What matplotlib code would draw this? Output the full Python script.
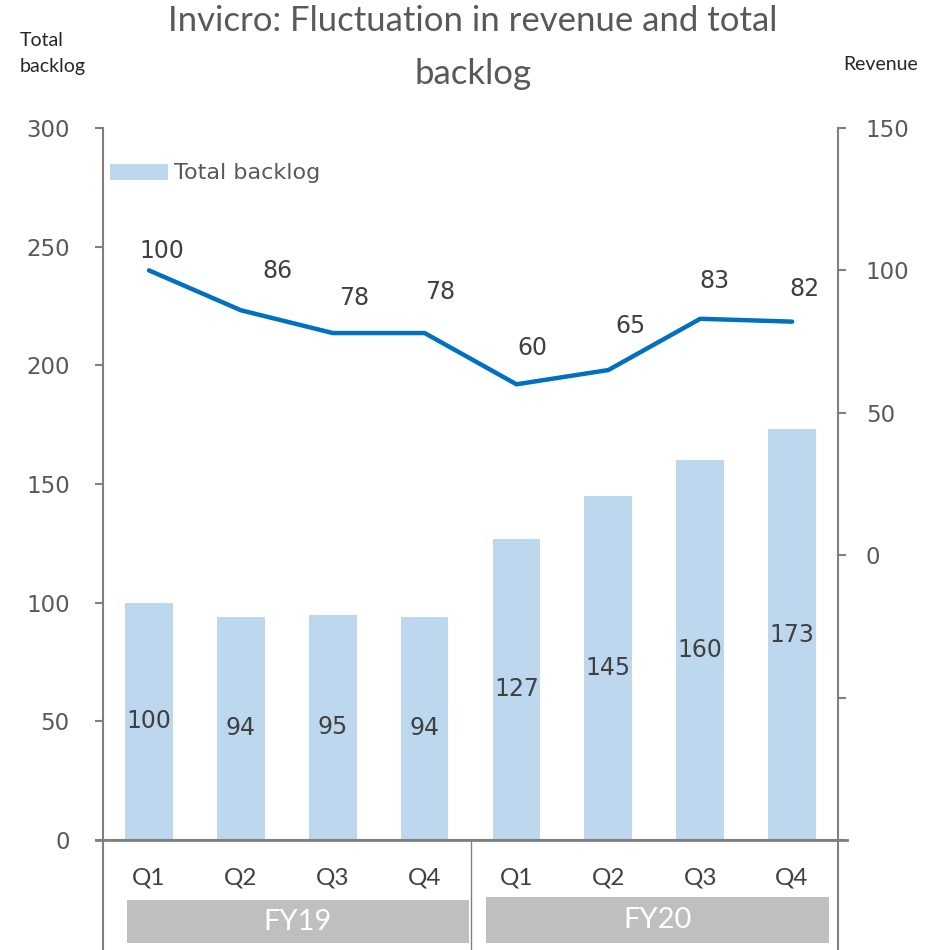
import matplotlib
matplotlib.use('Agg')
import matplotlib.pyplot as plt
from matplotlib.patches import Rectangle
from matplotlib.lines import Line2D

quarters = ["Q1", "Q2", "Q3", "Q4", "Q1", "Q2", "Q3", "Q4"]
years = ["FY19", "FY20"]
backlog = [100, 94, 95, 94, 127, 145, 160, 173]
revenue = [100, 86, 78, 78, 60, 65, 83, 82]

# label offsets (pixels) for revenue labels, as placed in the original
rev_dx = [13, 37, 21, 16, 16, 22, 14, 12]
rev_dy = [19, 39, 35, 41, 36, 44, 38, 33]

BAR = "#bdd7ee"
LINE = "#0070c0"
GRID = "#808080"
TXT = "#595959"
DARK = "#404040"

fig = plt.figure(figsize=(9.48, 9.5), dpi=100)
ax = fig.add_axes([0.1087, 0.1158, 0.7753, 0.7495])
ax2 = ax.twinx()

x = list(range(len(quarters)))
bars = ax.bar(x, backlog, width=0.52, color=BAR, label="Total backlog", zorder=2)
ax.set_xlim(-0.5, 7.5)
ax.set_ylim(0, 300)
ax.set_yticks(range(0, 301, 50))
ax.set_xticks([])

for xi, v in zip(x, backlog):
    ax.text(xi, v / 2, str(v), ha="center", va="center", fontsize=17,
            color=DARK, family="DejaVu Sans")

ax2.plot(x, revenue, color=LINE, lw=3.2, solid_capstyle="round", zorder=3)
ax2.set_ylim(-100, 150)
ax2.set_yticks([-100, -50, 0, 50, 100, 150])
ax2.set_yticklabels(["", "", "0", "50", "100", "150"])
for xi, v, dx, dy in zip(x, revenue, rev_dx, rev_dy):
    ax2.annotate(str(v), (xi, v), xytext=(dx * 0.72, dy * 0.72),
                 textcoords="offset points", ha="center", va="center",
                 fontsize=17, color=DARK, family="DejaVu Sans")

for a in (ax, ax2):
    for s in a.spines.values():
        s.set_color(GRID)
        s.set_linewidth(1.5)
    a.spines["top"].set_visible(False)
    a.tick_params(axis="x", length=0)
ax.tick_params(axis="y", direction="out", length=6, width=1.5, color=GRID,
               labelsize=16.5, labelcolor=TXT, pad=18)
ax2.tick_params(axis="y", direction="out", length=6, width=1.5, color=GRID,
                labelsize=16.5, labelcolor=TXT, pad=14)
ax.spines["right"].set_visible(False)
ax2.spines["left"].set_visible(False)
ax2.spines["bottom"].set_visible(False)

# legend
ax.legend(handles=[bars], loc="upper left", bbox_to_anchor=(-0.012, 0.972),
          frameon=False, fontsize=16, labelcolor=TXT, handlelength=2.6,
          handleheight=0.75, handletextpad=0.3, borderaxespad=0.3)

# category axis below
tr = ax.get_xaxis_transform()
for xi, q in zip(x, quarters):
    ax.text(xi, -0.053, q, transform=tr, ha="center", va="center",
            fontsize=17.5, color=DARK, family="Lato")

box_spans = [(-0.24, 3.48), (3.67, 7.40)]
box_y = [(-0.1447, -0.0843), (-0.1447, -0.0800)]
for (x0, x1), (y0, y1), yr in zip(box_spans, box_y, years):
    ax.add_patch(Rectangle((x0, y0), x1 - x0, y1 - y0, transform=tr,
                           facecolor="#bfbfbf", edgecolor="none", clip_on=False))
    ax.text((x0 + x1) / 2, (y0 + y1) / 2, yr, transform=tr, ha="center",
            va="center", fontsize=21, color="white", family="Lato")

for xv in (-0.5, 3.5, 7.5):
    lw = 1.5 if xv != 3.5 else 1.0
    ax.add_line(Line2D([xv, xv], [0, -0.16], transform=tr, color=GRID,
                       lw=lw, clip_on=False))
ax.add_line(Line2D([-0.58, 7.6], [0, 0], transform=tr, color=GRID, lw=2,
                   clip_on=False))

# titles
fig.text(0.499, 0.995, "Invicro: Fluctuation in revenue and total\nbacklog",
         ha="center", va="top", fontsize=25, color=TXT, family="Lato",
         linespacing=1.8)
fig.text(0.021, 0.966, "Total\nbacklog", ha="left", va="top", fontsize=14,
         color="#262626", family="Lato", linespacing=1.6)
fig.text(0.889, 0.932, "Revenue", ha="left", va="center", fontsize=14,
         color="#262626", family="Lato")

fig.savefig("out.png", dpi=100)
